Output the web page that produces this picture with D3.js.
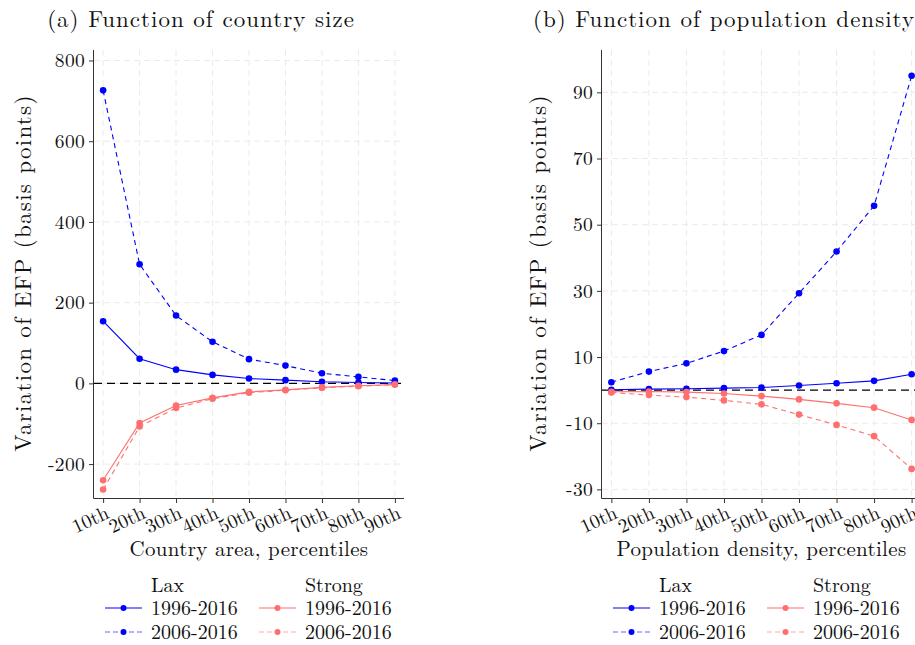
<!DOCTYPE html>
<html>
<head>
<meta charset="utf-8">
<script src="https://cdn.jsdelivr.net/npm/d3@7"></script>
<style>
  body { margin: 0; background: #fff; }
  svg { display: block; }
</style>
</head>
<body>
<svg id="chart" width="915" height="645"></svg>
<script>
// Data
const percentiles = ['10th', '20th', '30th', '40th', '50th', '60th', '70th', '80th', '90th'];

// (a) country size
const sizeLax1996 = [154, 61, 34, 21, 12, 8, 4, 2, 1];
const sizeLax2006 = [726, 295, 168, 103, 60, 44, 25, 16, 7];
const sizeStrong1996 = [-240, -98, -55, -36, -21, -16, -10, -6, -3];
const sizeStrong2006 = [-263, -107, -61, -38, -23, -17, -11, -7, -3];
const sizeTicks = [-200, 0, 200, 400, 600, 800];

// (b) population density
const densLax1996 = [0.1, 0.3, 0.4, 0.6, 0.8, 1.4, 2.1, 2.8, 4.8];
const densLax2006 = [2.4, 5.6, 8.1, 11.8, 16.7, 29.3, 41.9, 55.7, 95.0];
const densStrong1996 = [-0.5, -0.4, -0.6, -1.0, -1.8, -2.8, -4.0, -5.3, -9.0];
const densStrong2006 = [-0.7, -1.5, -2.1, -3.1, -4.3, -7.4, -10.5, -13.9, -23.8];
const densTicks = [-30, -10, 10, 30, 50, 70, 90];

const BLUE = '#0000ff';
const RED = '#ff6f6f';
const FONT = 'Latin Modern Roman, Liberation Serif, serif';

const svg = d3.select('#chart');

// plain text helper, font set as attribute so it sticks
function txt(sel, size, spacing) {
  sel.attr('font-family', FONT).attr('font-size', size).attr('fill', '#111');
  if (spacing) sel.style('letter-spacing', spacing + 'px');
  return sel;
}

function drawPanel(opt) {
  const x = d3.scaleLinear().domain([0.75, 9.25]).range([opt.left, opt.right]);
  const y = d3.scaleLinear().domain(opt.yDomain).range([498, 50]);
  const g = svg.append('g');

  // grid
  g.append('g').selectAll('line')
    .data(percentiles)
    .join('line')
    .attr('x1', (d, i) => x(i + 1)).attr('x2', (d, i) => x(i + 1))
    .attr('y1', 50).attr('y2', 498)
    .attr('stroke', '#ebebeb').attr('stroke-width', 1).attr('stroke-dasharray', '6,4');
  g.append('g').selectAll('line')
    .data(opt.ticks)
    .join('line')
    .attr('x1', opt.left).attr('x2', opt.right)
    .attr('y1', d => y(d)).attr('y2', d => y(d))
    .attr('stroke', '#ebebeb').attr('stroke-width', 1).attr('stroke-dasharray', '6,4');

  // zero line
  g.append('line')
    .attr('x1', opt.left).attr('x2', opt.right)
    .attr('y1', y(0)).attr('y2', y(0))
    .attr('stroke', '#000').attr('stroke-width', 1.2).attr('stroke-dasharray', '8,5');

  // axes
  const yAxis = d3.axisLeft(y).tickValues(opt.ticks).tickSize(5).tickPadding(4)
    .tickFormat(d => d < 0 ? '-' + Math.abs(d) : String(d));
  const ya = g.append('g').attr('transform', `translate(${opt.left},0)`).call(yAxis);
  ya.attr('font-family', FONT);
  ya.select('.domain').attr('stroke', '#333').attr('d', 'M-0.5,50V498.5');
  ya.selectAll('.tick line').attr('stroke', '#333');
  txt(ya.selectAll('.tick text'), 19.5, 0.3);

  const xAxis = d3.axisBottom(x).tickValues(d3.range(1, 10)).tickSize(5).tickFormat(d => percentiles[d - 1]);
  const xa = g.append('g').attr('transform', 'translate(0,498)').call(xAxis);
  xa.attr('font-family', FONT);
  xa.select('.domain').attr('stroke', '#333').attr('d', `M${opt.left - 0.5},0.5H${opt.right}`);
  xa.selectAll('.tick line').attr('stroke', '#333');
  txt(xa.selectAll('.tick text'), 19.5)
    .attr('text-anchor', 'end')
    .attr('y', 0).attr('dy', '0.7em')
    .attr('transform', 'translate(1,7) rotate(-25)');

  // series
  const line = d3.line().x((d, i) => x(i + 1)).y(d => y(d));
  opt.series.forEach(s => {
    g.append('path')
      .datum(s.values)
      .attr('d', line)
      .attr('fill', 'none')
      .attr('stroke', s.color)
      .attr('stroke-width', 1.1)
      .attr('stroke-dasharray', s.dashed ? '5,4' : null);
    g.append('g').selectAll('circle')
      .data(s.values)
      .join('circle')
      .attr('cx', (d, i) => x(i + 1))
      .attr('cy', d => y(d))
      .attr('r', 3.3)
      .attr('fill', s.color);
  });

  // titles
  txt(svg.append('text'), 23, 1)
    .attr('x', opt.titleX).attr('y', 27)
    .attr('text-anchor', 'middle')
    .text(opt.title);
  txt(svg.append('text'), 23, 1.3)
    .attr('transform', `translate(${opt.yLabelX},273) rotate(-90)`)
    .attr('text-anchor', 'middle')
    .text('Variation of EFP (basis points)');
  txt(svg.append('text'), 21, 0.3)
    .attr('x', (opt.left + opt.right) / 2).attr('y', 556)
    .attr('text-anchor', 'middle')
    .text(opt.xTitle);

  // legend
  const lg = svg.append('g').attr('transform', `translate(${opt.legendX},0)`);
  txt(lg.append('text'), 20).attr('x', 46).attr('y', 592).text('Lax');
  txt(lg.append('text'), 20).attr('x', 200).attr('y', 592).text('Strong');
  const items = [
    { col: 0, row: 0, color: BLUE, dashed: false },
    { col: 0, row: 1, color: BLUE, dashed: true },
    { col: 1, row: 0, color: RED, dashed: false },
    { col: 1, row: 1, color: RED, dashed: true }
  ];
  items.forEach(it => {
    const ox = it.col * 154;
    const yy = 608 + it.row * 24;
    lg.append('line')
      .attr('x1', ox).attr('x2', ox + 37)
      .attr('y1', yy).attr('y2', yy)
      .attr('stroke', it.color)
      .attr('stroke-width', 1.1)
      .attr('stroke-opacity', it.dashed ? 0.6 : 1)
      .attr('stroke-dasharray', it.dashed ? '5,3' : null);
    lg.append('circle')
      .attr('cx', ox + 18.5).attr('cy', yy).attr('r', 3)
      .attr('fill', it.color);
    txt(lg.append('text'), 20)
      .attr('x', ox + 46).attr('y', yy + 6.5)
      .text(it.row === 0 ? '1996-2016' : '2006-2016');
  });
}

drawPanel({
  left: 94, right: 404,
  yDomain: [-284, 826],
  ticks: sizeTicks,
  title: '(a) Function of country size', titleX: 201,
  xTitle: 'Country area, percentiles',
  yLabelX: 31,
  legendX: 105,
  series: [
    { values: sizeLax1996, color: BLUE, dashed: false },
    { values: sizeLax2006, color: BLUE, dashed: true },
    { values: sizeStrong1996, color: RED, dashed: false },
    { values: sizeStrong2006, color: RED, dashed: true }
  ]
});

drawPanel({
  left: 602, right: 921,
  yDomain: [-32.6, 102.8],
  ticks: densTicks,
  title: '(b) Function of population density', titleX: 724,
  xTitle: 'Population density, percentiles',
  yLabelX: 546,
  legendX: 613,
  series: [
    { values: densLax1996, color: BLUE, dashed: false },
    { values: densLax2006, color: BLUE, dashed: true },
    { values: densStrong1996, color: RED, dashed: false },
    { values: densStrong2006, color: RED, dashed: true }
  ]
});
</script>
</body>
</html>
